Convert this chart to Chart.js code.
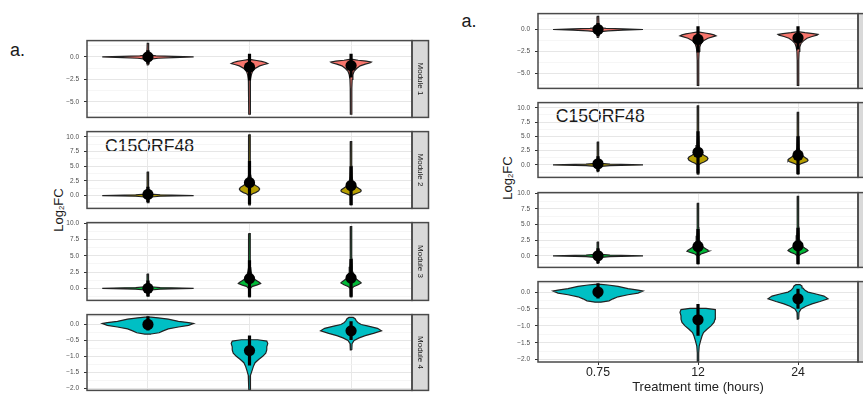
<!DOCTYPE html>
<html><head><meta charset="utf-8">
<script src="https://cdn.jsdelivr.net/npm/chart.js@4.4.1/dist/chart.umd.min.js"></script>
<style>
html,body{margin:0;padding:0;background:#fff;width:863px;height:394px;overflow:hidden;position:relative;font-family:"Liberation Sans",Arial,sans-serif;}
canvas{position:absolute;}
.t{position:absolute;white-space:nowrap;color:#1a1a1a;line-height:1;}
.ylab{position:absolute;white-space:nowrap;color:#1a1a1a;font-size:13px;line-height:1;transform:translate(-50%,-50%) rotate(-90deg);}
.ylab sub{font-size:0.6em;vertical-align:-0.2em;}
</style></head><body>
<div class="t" style="left:10px;top:40.5px;font-size:18px;">a.</div>
<div class="t" style="left:461.5px;top:11.5px;font-size:18px;">a.</div>
<div class="t" style="left:105px;top:138.4px;font-size:17.6px;">C15ORF48</div>
<div class="t" style="left:555.7px;top:108.4px;font-size:17.6px;">C15ORF48</div>
<div class="ylab" style="left:58.5px;top:210px;">Log<sub>2</sub>FC</div>
<div class="ylab" style="left:508px;top:178px;">Log<sub>2</sub>FC</div>
<script>
// ---------- data ----------
const categories = ['0.75', '12', '24'];
const modules = ['Module 1', 'Module 2', 'Module 3', 'Module 4'];
const xTitle = 'Treatment time (hours)';

const meanM1 = [0.0, -1.14, -0.97];
const lowM1  = [-0.75, -2.64, -2.3];
const highM1 = [0.75, 0.36, 0.36];
const violinYM1 = [
  [-0.9,-0.4,-0.24,-0.15,-0.07,0,0.06,0.12,0.2,0.5,1.5],
  [-6.4,-5,-3.5,-2.5,-2.0,-1.6,-1.3,-1.0,-0.85,-0.74,-0.62,-0.5,-0.4,-0.3],
  [-6.4,-5,-3.5,-2.5,-2.0,-1.6,-1.3,-1.0,-0.8,-0.65,-0.57,-0.47,-0.37,-0.28]
];
const violinWM1 = [
  [.007,.012,.03,.1,.25,.45,.25,.08,.02,.01,.007],
  [.007,.007,.008,.011,.018,.03,.055,.1,.145,.18,.16,.12,.07,.015],
  [.007,.007,.008,.011,.018,.03,.055,.09,.14,.19,.2,.15,.07,.015]
];

const meanM2 = [0.2, 2.2, 1.7];
const lowM2  = [-1.1, -1.5, -1.6];
const highM2 = [1.5, 5.9, 5.0];
const violinYM2 = [
  [-1.2,-0.5,-0.25,-0.12,0,0.12,0.25,0.5,1,2,4],
  [-1.6,-0.5,0,0.3,0.5,0.8,1.1,1.4,1.7,2.0,2.5,3.5,5,7,10.35],
  [-1.6,-0.5,0,0.2,0.4,0.6,0.8,1.0,1.3,1.6,2.0,3,5,7,9.2]
];
const violinWM2 = [
  [.007,.01,.03,.12,.45,.12,.03,.012,.009,.007,.006],
  [.007,.007,.009,.03,.06,.09,.1,.09,.06,.035,.02,.012,.009,.007,.006],
  [.007,.007,.009,.03,.06,.09,.1,.095,.07,.045,.022,.012,.009,.007,.006]
];

const meanM3 = [0.0, 1.5, 1.6];
const lowM3  = [-1.2, -1.3, -1.3];
const highM3 = [1.2, 4.3, 4.5];
const violinYM3 = [
  [-1.2,-0.5,-0.25,-0.12,0,0.12,0.25,0.5,1,2.2],
  [-1.3,-0.5,0,0.3,0.5,0.74,0.9,1.1,1.4,1.8,2.4,3.2,4.5,6,8.4],
  [-1.3,-0.5,0,0.3,0.55,0.83,1.0,1.2,1.5,1.9,2.5,3.3,4.6,6.5,9.5]
];
const violinWM3 = [
  [.007,.01,.03,.12,.45,.12,.03,.012,.009,.006],
  [.007,.007,.009,.03,.07,.11,.1,.08,.05,.03,.018,.012,.009,.007,.006],
  [.007,.007,.009,.03,.07,.1,.09,.07,.045,.03,.018,.012,.009,.007,.006]
];

const meanM4 = [0.0, -0.82, -0.2];
const lowM4  = [-0.19, -1.29, -0.49];
const highM4 = [0.26, -0.35, 0.1];
const violinYM4 = [
  [-0.3,-0.26,-0.2,-0.14,-0.08,-0.03,0.03,0.06,0.1,0.17,0.21,0.23],
  [-2.05,-1.8,-1.6,-1.45,-1.3,-1.2,-1.1,-1.0,-0.9,-0.8,-0.7,-0.6,-0.52,-0.48],
  [-0.8,-0.6,-0.5,-0.42,-0.35,-0.28,-0.2,-0.12,-0.05,0,0.05,0.12,0.18,0.22]
];
const violinWM4 = [
  [.03,.11,.15,.2,.3,.4,.45,.4,.3,.2,.1,.03],
  [.007,.007,.012,.025,.04,.055,.09,.13,.16,.17,.17,.18,.17,.08],
  [.007,.01,.03,.08,.14,.22,.3,.26,.17,.1,.07,.05,.04,.02]
];

// axis ranges and tick labels
const yRangeM1 = [-6.75, 1.82];
const yRangeM2 = [-2.19, 10.9];
const yRangeM3 = [-1.85, 10.1];
const yRangeM4 = [-2.07, 0.31];
const yMajorM1 = [-5, -2.5, 0];
const yMinorM1 = [-6.25, -3.75, -1.25, 1.25];
const yMajorM2 = [0, 2.5, 5, 7.5, 10];
const yMinorM2 = [-1.25, 1.25, 3.75, 6.25, 8.75];
const yMajorM3 = [0, 2.5, 5, 7.5, 10];
const yMinorM3 = [-1.25, 1.25, 3.75, 6.25, 8.75];
const yMajorM4 = [-2, -1.5, -1, -0.5, 0];
const yMinorM4 = [-1.75, -1.25, -0.75, -0.25, 0.25];

// ---------- styles / layout ----------
const FONT = '"Liberation Sans", Arial, sans-serif';
const fillColors = ['#F8766D', '#B79F00', '#00BA38', '#00BFC4'];
const STRIPW = 16.5, YAXW = 45, PADR = 18;

const moduleData = [
  {mean: meanM1, low: lowM1, high: highM1, vy: violinYM1, vw: violinWM1, range: yRangeM1, major: yMajorM1, minor: yMinorM1},
  {mean: meanM2, low: lowM2, high: highM2, vy: violinYM2, vw: violinWM2, range: yRangeM2, major: yMajorM2, minor: yMinorM2},
  {mean: meanM3, low: lowM3, high: highM3, vy: violinYM3, vw: violinWM3, range: yRangeM3, major: yMajorM3, minor: yMinorM3},
  {mean: meanM4, low: lowM4, high: highM4, vy: violinYM4, vw: violinWM4, range: yRangeM4, major: yMajorM4, minor: yMinorM4}
];

const figs = [
  {plotLeft: 87, plotW: 325, showX: false,
   panels: [{top: 36, h: 86}, {top: 127, h: 86}, {top: 218, h: 87}, {top: 310, h: 85}]},
  {plotLeft: 538, plotW: 320, showX: true,
   panels: [{top: 9, h: 84}, {top: 98, h: 84}, {top: 188, h: 84}, {top: 277, h: 85}]}
];

function fmt(v) {
  const s = v.toFixed(1);
  return s.replace('-', '\u2212');
}
function isIn(arr, v) { return arr.some(a => Math.abs(a - v) < 1e-6); }

function violinPolygon(c, ys, ws) {
  const pts = [];
  for (let i = 0; i < ys.length; i++) pts.push({x: c + ws[i], y: ys[i]});
  for (let i = ys.length - 1; i >= 0; i--) pts.push({x: c - ws[i], y: ys[i]});
  pts.push({x: c + ws[0], y: ys[0]});
  return pts;
}

function makePanel(fig, mi) {
  const p = fig.panels[mi];
  const md = moduleData[mi];
  const showX = fig.showX && mi === 3;
  const xH = showX ? 33 : 0;
  const canvas = document.createElement('canvas');
  const W = YAXW + fig.plotW + PADR;
  const H = p.h + 1 + (showX ? xH : 1);
  canvas.width = W; canvas.height = H;
  canvas.style.left = (fig.plotLeft - YAXW) + 'px';
  canvas.style.top = (p.top - 1) + 'px';
  canvas.style.width = W + 'px'; canvas.style.height = H + 'px';
  document.body.appendChild(canvas);

  const datasets = [];
  for (let c = 0; c < categories.length; c++) {
    datasets.push({
      type: 'line', data: violinPolygon(c, md.vy[c], md.vw[c]),
      fill: 'shape', backgroundColor: fillColors[mi], borderColor: '#222',
      borderWidth: 1.2, pointRadius: 0, tension: 0, order: 3
    });
  }
  for (let c = 0; c < categories.length; c++) {
    datasets.push({
      type: 'line', data: [{x: c, y: md.low[c]}, {x: c, y: md.high[c]}],
      fill: false, borderColor: '#000', borderWidth: 3.2, borderCapStyle: 'butt',
      pointRadius: 0, order: 2
    });
  }
  datasets.push({
    type: 'scatter', data: md.mean.map((m, c) => ({x: c, y: m})),
    pointRadius: 5.6, backgroundColor: '#000', borderWidth: 0, order: 1
  });

  const deco = {
    id: 'deco' + mi,
    afterDraw(chart) {
      const {ctx, chartArea: a} = chart;
      ctx.save();
      ctx.fillStyle = '#D9D9D9';
      ctx.fillRect(a.right, a.top, STRIPW, a.bottom - a.top);
      ctx.strokeStyle = '#4a4a4a'; ctx.lineWidth = 1.5;
      ctx.strokeRect(a.right, a.top, STRIPW, a.bottom - a.top);
      ctx.strokeRect(a.left, a.top, a.right - a.left, a.bottom - a.top);
      ctx.translate(a.right + STRIPW / 2, (a.top + a.bottom) / 2);
      ctx.rotate(Math.PI / 2);
      ctx.fillStyle = '#1a1a1a';
      ctx.font = '8px ' + FONT;
      ctx.textAlign = 'center'; ctx.textBaseline = 'middle';
      ctx.fillText(modules[mi], 0, 0);
      ctx.restore();
    }
  };

  new Chart(canvas, {
    type: 'line',
    data: {datasets},
    options: {
      responsive: false, animation: false, events: [],
      layout: {padding: {top: 1, bottom: showX ? 0 : 1, left: 0, right: PADR}},
      plugins: {legend: {display: false}, tooltip: {enabled: false}},
      scales: {
        x: {
          type: 'linear', min: -0.6, max: 2.6,
          afterBuildTicks: s => { s.ticks = categories.map((_, i) => ({value: i})); },
          afterFit: s => { s.height = xH; s.paddingLeft = 0; s.paddingRight = 0; },
          grid: {color: '#E8E8E8', lineWidth: 1, drawTicks: showX, tickLength: 3, tickColor: '#333'},
          border: {display: false},
          ticks: {display: showX, autoSkip: false, maxRotation: 0, padding: 0, color: '#222',
                  font: {size: 12.3, family: FONT}, callback: v => categories[v]},
          title: {display: showX, text: xTitle, color: '#222', font: {size: 13, family: FONT}, padding: 0}
        },
        y: {
          type: 'linear', min: md.range[0], max: md.range[1],
          afterBuildTicks: s => {
            s.ticks = md.major.concat(md.minor).sort((a, b) => a - b).map(v => ({value: v}));
          },
          afterFit: s => { s.width = YAXW; s.paddingTop = 0; s.paddingBottom = 0; },
          grid: {
            color: c => isIn(md.major, c.tick.value) ? '#E6E6E6' : '#F2F2F2',
            lineWidth: c => isIn(md.major, c.tick.value) ? 1 : 0.7,
            drawTicks: true, tickLength: 3,
            tickColor: c => isIn(md.major, c.tick.value) ? '#333' : 'rgba(0,0,0,0)'
          },
          border: {display: false},
          ticks: {autoSkip: false, padding: 5, color: '#4D4D4D', font: {size: 6.5, family: FONT},
                  callback: v => isIn(md.major, v) ? fmt(v) : ''}
        }
      }
    },
    plugins: [deco]
  });
}

figs.forEach(fig => { for (let mi = 0; mi < 4; mi++) makePanel(fig, mi); });
</script>
</body></html>
